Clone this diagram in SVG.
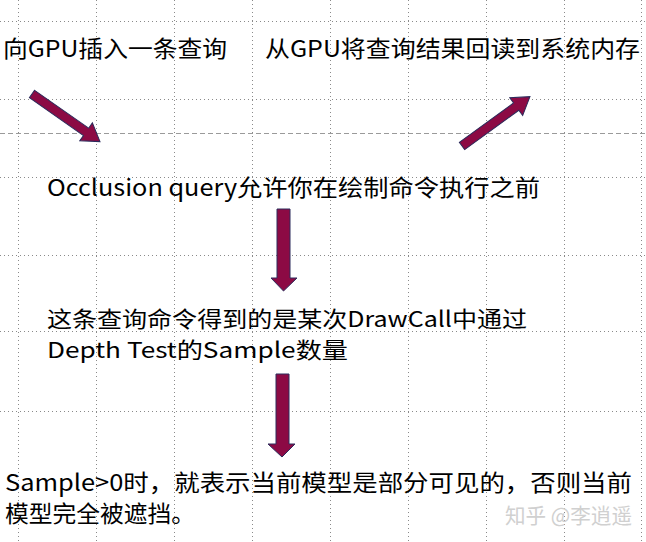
<svg xmlns="http://www.w3.org/2000/svg" width="646" height="542" viewBox="0 0 646 542">
<style>
.grid line{stroke:#8a8a8a;stroke-width:1;stroke-dasharray:1 3;}
.dash{stroke:#9a9a9a;stroke-width:1;stroke-dasharray:5 3;}
.t{font-family:"Noto Sans CJK SC","Microsoft YaHei",sans-serif;font-size:23px;fill:#000;}
.s{font-size:21.5px;}
.wm{font-family:"Noto Sans CJK SC",sans-serif;font-size:21px;fill:#d0d0d0;}
.arr{fill:#8c0a44;stroke:#2c2c5c;stroke-width:1;}
</style>
<rect width="646" height="542" fill="#fff"/>
<g class="grid">
<line x1="0" y1="21.5" x2="646" y2="21.5"/>
<line x1="0" y1="99.5" x2="646" y2="99.5"/>
<line x1="0" y1="177.5" x2="646" y2="177.5"/>
<line x1="0" y1="255.5" x2="646" y2="255.5"/>
<line x1="0" y1="331.5" x2="646" y2="331.5"/>
<line x1="0" y1="411.5" x2="646" y2="411.5"/>
<line x1="18.5" y1="0" x2="18.5" y2="542"/>
<line x1="96.5" y1="0" x2="96.5" y2="542"/>
<line x1="174.5" y1="0" x2="174.5" y2="542"/>
<line x1="252.5" y1="0" x2="252.5" y2="542"/>
<line x1="330.5" y1="0" x2="330.5" y2="542"/>
<line x1="408.5" y1="0" x2="408.5" y2="542"/>
<line x1="486.5" y1="0" x2="486.5" y2="542"/>
<line x1="564.5" y1="0" x2="564.5" y2="542"/>
<line x1="641.5" y1="0" x2="641.5" y2="542"/>
</g>
<line class="dash" x1="0" y1="133.5" x2="646" y2="133.5"/>
<g id="connectors">
<polygon class="arr" transform="translate(32,94) rotate(35)" points="0,-4.5 66,-4.5 66,-11 83,0 66,11 66,4.5 0,4.5"/>
<polygon class="arr" transform="translate(462,146) rotate(-36)" points="0,-4.5 67,-4.5 67,-11 84,0 67,11 67,4.5 0,4.5"/>
<polygon class="arr" points="277,209 290,209 290,278 297,278 283.5,291 271,278 277,278"/>
<polygon class="arr" points="276,374 289,374 289,444 295,444 282,457 268,444 276,444"/>
</g>
<g id="node-insert"><text class="t" x="3" y="57" textLength="224" lengthAdjust="spacingAndGlyphs">向GPU插入一条查询</text></g>
<g id="node-readback"><text class="t" x="265" y="57" textLength="375" lengthAdjust="spacingAndGlyphs">从GPU将查询结果回读到系统内存</text></g>
<g id="node-occlusion"><text class="t" x="47" y="196" textLength="493" lengthAdjust="spacingAndGlyphs">Occlusion query允许你在绘制命令执行之前</text></g>
<g id="node-result">
<text class="t s" x="47" y="327" textLength="480" lengthAdjust="spacingAndGlyphs">这条查询命令得到的是某次DrawCall中通过</text>
<text class="t s" x="47" y="358" textLength="301" lengthAdjust="spacingAndGlyphs">Depth Test的Sample数量</text>
</g>
<g id="node-visible">
<text class="t" x="5" y="491" textLength="627" lengthAdjust="spacingAndGlyphs">Sample&gt;0时，就表示当前模型是部分可见的，否则当前</text>
<text class="t" x="5" y="522" textLength="190" lengthAdjust="spacingAndGlyphs">模型完全被遮挡。</text>
</g>
<text class="wm" x="505" y="523" textLength="127" lengthAdjust="spacingAndGlyphs">知乎 @李逍遥</text>
</svg>
